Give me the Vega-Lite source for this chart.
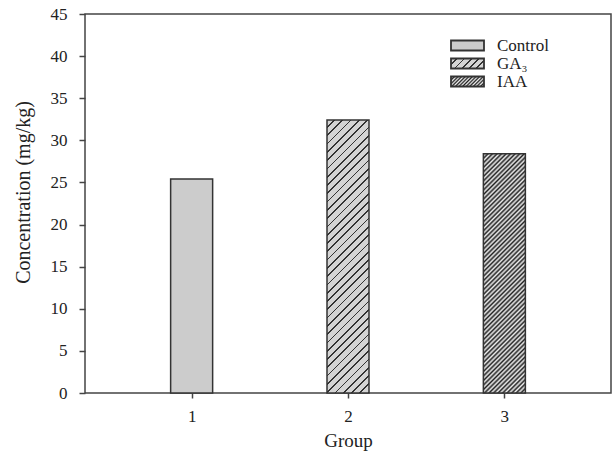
{
  "$schema": "https://vega.github.io/schema/vega-lite/v6.json",
  "width": 526,
  "height": 379,
  "autosize": {"type": "none"},
  "padding": {"left": 85, "top": 14, "right": 1, "bottom": 59},
  "background": "white",
  "config": {
    "view": {"stroke": "#444444", "strokeWidth": 1.5},
    "axis": {
      "labelFont": "Liberation Serif", "labelFontSize": 17, "labelColor": "#222222",
      "titleFont": "Liberation Serif", "titleFontSize": 18, "titleFontWeight": "normal", "titleColor": "#222222",
      "domain": false, "grid": false, "tickColor": "#444444", "tickWidth": 1.5
    },
    "legend": {"labelFont": "Liberation Serif", "labelFontSize": 17, "labelColor": "#222222"}
  },
  "data": {"values": [
    {"group": 1, "treatment": "Control", "value": 25.4},
    {"group": 2, "treatment": "GA₃", "value": 32.4},
    {"group": 3, "treatment": "IAA", "value": 28.4}
  ]},
  "encoding": {
    "x": {"field": "group", "type": "quantitative", "scale": {"domain": [0.35, 3.65]},
      "axis": {"values": [1, 2, 3], "title": "Group", "tickSize": 5, "labelPadding": 10, "titlePadding": 7, "titleFontSize": 19, "labelFlush": false}},
    "y": {"field": "value", "type": "quantitative", "scale": {"domain": [0, 45]},
      "axis": {"values": [0, 5, 10, 15, 20, 25, 30, 35, 40, 45], "title": "Concentration (mg/kg)", "tickSize": 6, "labelPadding": 12, "titlePadding": 17, "titleFontSize": 20, "titleY": 178, "labelFlush": false}}
  },
  "layer": [
    {
      "mark": {"type": "bar", "width": 42},
      "encoding": {
        "fill": {"field": "treatment", "type": "nominal",
          "scale": {"domain": ["Control", "GA₃", "IAA"], "range": [
            "#cccccc",
            {"expr": "{gradient:'linear',x1:0,y1:0,x2:1.1935,y2:0.3616,stops:[{offset:0,color:'#d4d4d4'},{offset:0.125,color:'#d4d4d4'},{offset:0.125,color:'#333333'},{offset:0.1667,color:'#333333'},{offset:0.1667,color:'#d4d4d4'},{offset:0.2917,color:'#d4d4d4'},{offset:0.2917,color:'#333333'},{offset:0.3333,color:'#333333'},{offset:0.3333,color:'#d4d4d4'},{offset:0.4583,color:'#d4d4d4'},{offset:0.4583,color:'#333333'},{offset:0.5,color:'#333333'},{offset:0.5,color:'#d4d4d4'},{offset:0.625,color:'#d4d4d4'},{offset:0.625,color:'#333333'},{offset:0.6667,color:'#333333'},{offset:0.6667,color:'#d4d4d4'},{offset:0.7917,color:'#d4d4d4'},{offset:0.7917,color:'#333333'},{offset:0.8333,color:'#333333'},{offset:0.8333,color:'#d4d4d4'},{offset:0.9583,color:'#d4d4d4'},{offset:0.9583,color:'#333333'},{offset:1,color:'#333333'}]}"},
            {"expr": "{gradient:'linear',x1:0,y1:0,x2:1.1935,y2:0.3616,stops:[{offset:0,color:'#222222'},{offset:0.0417,color:'#eeeeee'},{offset:0.0833,color:'#222222'},{offset:0.125,color:'#eeeeee'},{offset:0.1667,color:'#222222'},{offset:0.2083,color:'#eeeeee'},{offset:0.25,color:'#222222'},{offset:0.2917,color:'#eeeeee'},{offset:0.3333,color:'#222222'},{offset:0.375,color:'#eeeeee'},{offset:0.4167,color:'#222222'},{offset:0.4583,color:'#eeeeee'},{offset:0.5,color:'#222222'},{offset:0.5417,color:'#eeeeee'},{offset:0.5833,color:'#222222'},{offset:0.625,color:'#eeeeee'},{offset:0.6667,color:'#222222'},{offset:0.7083,color:'#eeeeee'},{offset:0.75,color:'#222222'},{offset:0.7917,color:'#eeeeee'},{offset:0.8333,color:'#222222'},{offset:0.875,color:'#eeeeee'},{offset:0.9167,color:'#222222'},{offset:0.9583,color:'#eeeeee'},{offset:1,color:'#222222'}]}"}
          ]},
          "legend": {
            "title": null, "orient": "none", "legendX": 374, "legendY": 23, "padding": 0,
            "symbolType": "M-3.3,-1H3.3V1H-3.3Z", "symbolSize": 100, "symbolOpacity": 1,
            "symbolStrokeColor": "#333333", "symbolStrokeWidth": 1.8,
            "labelOffset": 21, "rowPadding": -1.5
          }
        }
      }
    },
    {
      "mark": {"type": "bar", "width": 42, "strokeWidth": 1.5, "stroke": "#333333"},
      "encoding": {
        "color": {
          "condition": [
            {"test": "datum.treatment === 'GA₃'", "value": {"gradient": "linear", "x1": 0, "y1": 0, "x2": 0.1735, "y2": 1.1272, "stops": [
              {"offset":0,"color":"#d4d4d4"},{"offset":0.0205,"color":"#d4d4d4"},{"offset":0.0205,"color":"#333333"},{"offset":0.0263,"color":"#333333"},
              {"offset":0.0263,"color":"#d4d4d4"},{"offset":0.0468,"color":"#d4d4d4"},{"offset":0.0468,"color":"#333333"},{"offset":0.0526,"color":"#333333"},
              {"offset":0.0526,"color":"#d4d4d4"},{"offset":0.0732,"color":"#d4d4d4"},{"offset":0.0732,"color":"#333333"},{"offset":0.0789,"color":"#333333"},
              {"offset":0.0789,"color":"#d4d4d4"},{"offset":0.0995,"color":"#d4d4d4"},{"offset":0.0995,"color":"#333333"},{"offset":0.1053,"color":"#333333"},
              {"offset":0.1053,"color":"#d4d4d4"},{"offset":0.1258,"color":"#d4d4d4"},{"offset":0.1258,"color":"#333333"},{"offset":0.1316,"color":"#333333"},
              {"offset":0.1316,"color":"#d4d4d4"},{"offset":0.1521,"color":"#d4d4d4"},{"offset":0.1521,"color":"#333333"},{"offset":0.1579,"color":"#333333"},
              {"offset":0.1579,"color":"#d4d4d4"},{"offset":0.1784,"color":"#d4d4d4"},{"offset":0.1784,"color":"#333333"},{"offset":0.1842,"color":"#333333"},
              {"offset":0.1842,"color":"#d4d4d4"},{"offset":0.2047,"color":"#d4d4d4"},{"offset":0.2047,"color":"#333333"},{"offset":0.2105,"color":"#333333"},
              {"offset":0.2105,"color":"#d4d4d4"},{"offset":0.2311,"color":"#d4d4d4"},{"offset":0.2311,"color":"#333333"},{"offset":0.2368,"color":"#333333"},
              {"offset":0.2368,"color":"#d4d4d4"},{"offset":0.2574,"color":"#d4d4d4"},{"offset":0.2574,"color":"#333333"},{"offset":0.2632,"color":"#333333"},
              {"offset":0.2632,"color":"#d4d4d4"},{"offset":0.2837,"color":"#d4d4d4"},{"offset":0.2837,"color":"#333333"},{"offset":0.2895,"color":"#333333"},
              {"offset":0.2895,"color":"#d4d4d4"},{"offset":0.31,"color":"#d4d4d4"},{"offset":0.31,"color":"#333333"},{"offset":0.3158,"color":"#333333"},
              {"offset":0.3158,"color":"#d4d4d4"},{"offset":0.3363,"color":"#d4d4d4"},{"offset":0.3363,"color":"#333333"},{"offset":0.3421,"color":"#333333"},
              {"offset":0.3421,"color":"#d4d4d4"},{"offset":0.3626,"color":"#d4d4d4"},{"offset":0.3626,"color":"#333333"},{"offset":0.3684,"color":"#333333"},
              {"offset":0.3684,"color":"#d4d4d4"},{"offset":0.389,"color":"#d4d4d4"},{"offset":0.389,"color":"#333333"},{"offset":0.3947,"color":"#333333"},
              {"offset":0.3947,"color":"#d4d4d4"},{"offset":0.4153,"color":"#d4d4d4"},{"offset":0.4153,"color":"#333333"},{"offset":0.4211,"color":"#333333"},
              {"offset":0.4211,"color":"#d4d4d4"},{"offset":0.4416,"color":"#d4d4d4"},{"offset":0.4416,"color":"#333333"},{"offset":0.4474,"color":"#333333"},
              {"offset":0.4474,"color":"#d4d4d4"},{"offset":0.4679,"color":"#d4d4d4"},{"offset":0.4679,"color":"#333333"},{"offset":0.4737,"color":"#333333"},
              {"offset":0.4737,"color":"#d4d4d4"},{"offset":0.4942,"color":"#d4d4d4"},{"offset":0.4942,"color":"#333333"},{"offset":0.5,"color":"#333333"},
              {"offset":0.5,"color":"#d4d4d4"},{"offset":0.5205,"color":"#d4d4d4"},{"offset":0.5205,"color":"#333333"},{"offset":0.5263,"color":"#333333"},
              {"offset":0.5263,"color":"#d4d4d4"},{"offset":0.5468,"color":"#d4d4d4"},{"offset":0.5468,"color":"#333333"},{"offset":0.5526,"color":"#333333"},
              {"offset":0.5526,"color":"#d4d4d4"},{"offset":0.5732,"color":"#d4d4d4"},{"offset":0.5732,"color":"#333333"},{"offset":0.5789,"color":"#333333"},
              {"offset":0.5789,"color":"#d4d4d4"},{"offset":0.5995,"color":"#d4d4d4"},{"offset":0.5995,"color":"#333333"},{"offset":0.6053,"color":"#333333"},
              {"offset":0.6053,"color":"#d4d4d4"},{"offset":0.6258,"color":"#d4d4d4"},{"offset":0.6258,"color":"#333333"},{"offset":0.6316,"color":"#333333"},
              {"offset":0.6316,"color":"#d4d4d4"},{"offset":0.6521,"color":"#d4d4d4"},{"offset":0.6521,"color":"#333333"},{"offset":0.6579,"color":"#333333"},
              {"offset":0.6579,"color":"#d4d4d4"},{"offset":0.6784,"color":"#d4d4d4"},{"offset":0.6784,"color":"#333333"},{"offset":0.6842,"color":"#333333"},
              {"offset":0.6842,"color":"#d4d4d4"},{"offset":0.7047,"color":"#d4d4d4"},{"offset":0.7047,"color":"#333333"},{"offset":0.7105,"color":"#333333"},
              {"offset":0.7105,"color":"#d4d4d4"},{"offset":0.7311,"color":"#d4d4d4"},{"offset":0.7311,"color":"#333333"},{"offset":0.7368,"color":"#333333"},
              {"offset":0.7368,"color":"#d4d4d4"},{"offset":0.7574,"color":"#d4d4d4"},{"offset":0.7574,"color":"#333333"},{"offset":0.7632,"color":"#333333"},
              {"offset":0.7632,"color":"#d4d4d4"},{"offset":0.7837,"color":"#d4d4d4"},{"offset":0.7837,"color":"#333333"},{"offset":0.7895,"color":"#333333"},
              {"offset":0.7895,"color":"#d4d4d4"},{"offset":0.81,"color":"#d4d4d4"},{"offset":0.81,"color":"#333333"},{"offset":0.8158,"color":"#333333"},
              {"offset":0.8158,"color":"#d4d4d4"},{"offset":0.8363,"color":"#d4d4d4"},{"offset":0.8363,"color":"#333333"},{"offset":0.8421,"color":"#333333"},
              {"offset":0.8421,"color":"#d4d4d4"},{"offset":0.8626,"color":"#d4d4d4"},{"offset":0.8626,"color":"#333333"},{"offset":0.8684,"color":"#333333"},
              {"offset":0.8684,"color":"#d4d4d4"},{"offset":0.889,"color":"#d4d4d4"},{"offset":0.889,"color":"#333333"},{"offset":0.8947,"color":"#333333"},
              {"offset":0.8947,"color":"#d4d4d4"},{"offset":0.9153,"color":"#d4d4d4"},{"offset":0.9153,"color":"#333333"},{"offset":0.9211,"color":"#333333"},
              {"offset":0.9211,"color":"#d4d4d4"},{"offset":0.9416,"color":"#d4d4d4"},{"offset":0.9416,"color":"#333333"},{"offset":0.9474,"color":"#333333"},
              {"offset":0.9474,"color":"#d4d4d4"},{"offset":0.9679,"color":"#d4d4d4"},{"offset":0.9679,"color":"#333333"},{"offset":0.9737,"color":"#333333"},
              {"offset":0.9737,"color":"#d4d4d4"},{"offset":0.9942,"color":"#d4d4d4"},{"offset":0.9942,"color":"#333333"},{"offset":1,"color":"#333333"}
            ]}},
            {"test": "datum.treatment === 'IAA'", "value": {"gradient": "linear", "x1": 0, "y1": 0, "x2": 0.2002, "y2": 1.1404, "stops": [
              {"offset":0,"color":"#222222"},{"offset":0.00806,"color":"#eeeeee"},{"offset":0.01613,"color":"#222222"},{"offset":0.02419,"color":"#eeeeee"},
              {"offset":0.03226,"color":"#222222"},{"offset":0.04032,"color":"#eeeeee"},{"offset":0.04839,"color":"#222222"},{"offset":0.05645,"color":"#eeeeee"},
              {"offset":0.06452,"color":"#222222"},{"offset":0.07258,"color":"#eeeeee"},{"offset":0.08065,"color":"#222222"},{"offset":0.08871,"color":"#eeeeee"},
              {"offset":0.09677,"color":"#222222"},{"offset":0.10484,"color":"#eeeeee"},{"offset":0.1129,"color":"#222222"},{"offset":0.12097,"color":"#eeeeee"},
              {"offset":0.12903,"color":"#222222"},{"offset":0.1371,"color":"#eeeeee"},{"offset":0.14516,"color":"#222222"},{"offset":0.15323,"color":"#eeeeee"},
              {"offset":0.16129,"color":"#222222"},{"offset":0.16935,"color":"#eeeeee"},{"offset":0.17742,"color":"#222222"},{"offset":0.18548,"color":"#eeeeee"},
              {"offset":0.19355,"color":"#222222"},{"offset":0.20161,"color":"#eeeeee"},{"offset":0.20968,"color":"#222222"},{"offset":0.21774,"color":"#eeeeee"},
              {"offset":0.22581,"color":"#222222"},{"offset":0.23387,"color":"#eeeeee"},{"offset":0.24194,"color":"#222222"},{"offset":0.25,"color":"#eeeeee"},
              {"offset":0.25806,"color":"#222222"},{"offset":0.26613,"color":"#eeeeee"},{"offset":0.27419,"color":"#222222"},{"offset":0.28226,"color":"#eeeeee"},
              {"offset":0.29032,"color":"#222222"},{"offset":0.29839,"color":"#eeeeee"},{"offset":0.30645,"color":"#222222"},{"offset":0.31452,"color":"#eeeeee"},
              {"offset":0.32258,"color":"#222222"},{"offset":0.33065,"color":"#eeeeee"},{"offset":0.33871,"color":"#222222"},{"offset":0.34677,"color":"#eeeeee"},
              {"offset":0.35484,"color":"#222222"},{"offset":0.3629,"color":"#eeeeee"},{"offset":0.37097,"color":"#222222"},{"offset":0.37903,"color":"#eeeeee"},
              {"offset":0.3871,"color":"#222222"},{"offset":0.39516,"color":"#eeeeee"},{"offset":0.40323,"color":"#222222"},{"offset":0.41129,"color":"#eeeeee"},
              {"offset":0.41935,"color":"#222222"},{"offset":0.42742,"color":"#eeeeee"},{"offset":0.43548,"color":"#222222"},{"offset":0.44355,"color":"#eeeeee"},
              {"offset":0.45161,"color":"#222222"},{"offset":0.45968,"color":"#eeeeee"},{"offset":0.46774,"color":"#222222"},{"offset":0.47581,"color":"#eeeeee"},
              {"offset":0.48387,"color":"#222222"},{"offset":0.49194,"color":"#eeeeee"},{"offset":0.5,"color":"#222222"},{"offset":0.50806,"color":"#eeeeee"},
              {"offset":0.51613,"color":"#222222"},{"offset":0.52419,"color":"#eeeeee"},{"offset":0.53226,"color":"#222222"},{"offset":0.54032,"color":"#eeeeee"},
              {"offset":0.54839,"color":"#222222"},{"offset":0.55645,"color":"#eeeeee"},{"offset":0.56452,"color":"#222222"},{"offset":0.57258,"color":"#eeeeee"},
              {"offset":0.58065,"color":"#222222"},{"offset":0.58871,"color":"#eeeeee"},{"offset":0.59677,"color":"#222222"},{"offset":0.60484,"color":"#eeeeee"},
              {"offset":0.6129,"color":"#222222"},{"offset":0.62097,"color":"#eeeeee"},{"offset":0.62903,"color":"#222222"},{"offset":0.6371,"color":"#eeeeee"},
              {"offset":0.64516,"color":"#222222"},{"offset":0.65323,"color":"#eeeeee"},{"offset":0.66129,"color":"#222222"},{"offset":0.66935,"color":"#eeeeee"},
              {"offset":0.67742,"color":"#222222"},{"offset":0.68548,"color":"#eeeeee"},{"offset":0.69355,"color":"#222222"},{"offset":0.70161,"color":"#eeeeee"},
              {"offset":0.70968,"color":"#222222"},{"offset":0.71774,"color":"#eeeeee"},{"offset":0.72581,"color":"#222222"},{"offset":0.73387,"color":"#eeeeee"},
              {"offset":0.74194,"color":"#222222"},{"offset":0.75,"color":"#eeeeee"},{"offset":0.75806,"color":"#222222"},{"offset":0.76613,"color":"#eeeeee"},
              {"offset":0.77419,"color":"#222222"},{"offset":0.78226,"color":"#eeeeee"},{"offset":0.79032,"color":"#222222"},{"offset":0.79839,"color":"#eeeeee"},
              {"offset":0.80645,"color":"#222222"},{"offset":0.81452,"color":"#eeeeee"},{"offset":0.82258,"color":"#222222"},{"offset":0.83065,"color":"#eeeeee"},
              {"offset":0.83871,"color":"#222222"},{"offset":0.84677,"color":"#eeeeee"},{"offset":0.85484,"color":"#222222"},{"offset":0.8629,"color":"#eeeeee"},
              {"offset":0.87097,"color":"#222222"},{"offset":0.87903,"color":"#eeeeee"},{"offset":0.8871,"color":"#222222"},{"offset":0.89516,"color":"#eeeeee"},
              {"offset":0.90323,"color":"#222222"},{"offset":0.91129,"color":"#eeeeee"},{"offset":0.91935,"color":"#222222"},{"offset":0.92742,"color":"#eeeeee"},
              {"offset":0.93548,"color":"#222222"},{"offset":0.94355,"color":"#eeeeee"},{"offset":0.95161,"color":"#222222"},{"offset":0.95968,"color":"#eeeeee"},
              {"offset":0.96774,"color":"#222222"},{"offset":0.97581,"color":"#eeeeee"},{"offset":0.98387,"color":"#222222"},{"offset":0.99194,"color":"#eeeeee"},
              {"offset":1,"color":"#222222"}
            ]}}
          ],
          "value": "#cccccc"
        }
      }
    }
  ]
}
